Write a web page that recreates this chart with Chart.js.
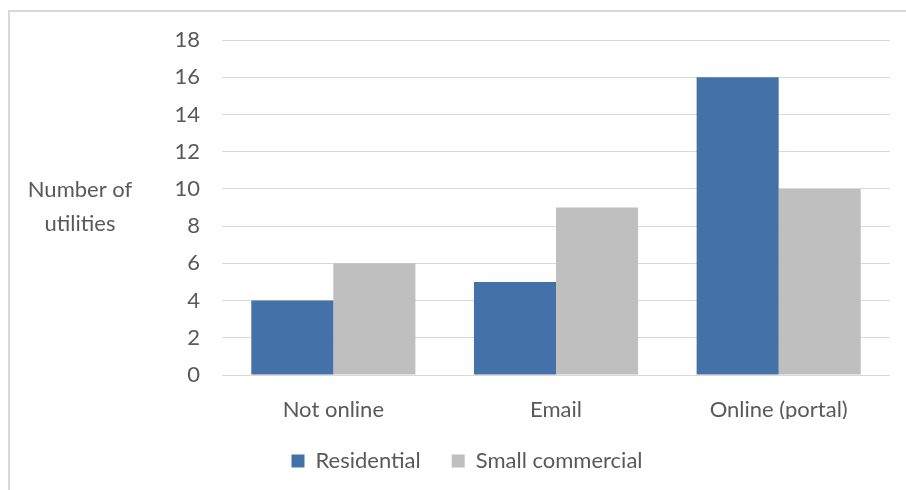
<!DOCTYPE html>
<html>
<head>
<meta charset="utf-8">
<script src="https://cdn.jsdelivr.net/npm/chart.js@4"></script>
<style>
  html, body { margin: 0; padding: 0; background: #fff; }
  #wrap { position: relative; width: 906px; height: 490px; overflow: hidden; }
  #frame { position: absolute; left: 8px; top: 10px; width: 920px; height: 500px;
           border-top: 2px solid #d9d9d9; border-left: 2px solid #d9d9d9; }
  #opChart { position: absolute; left: 0; top: 0; }
</style>
</head>
<body>
<div id="wrap">
  <div id="frame"></div>
  <canvas id="opChart" width="906" height="490"></canvas>
</div>
<script>
var categories = ["Not online", "Email", "Online (portal)"];
var residential = [4, 5, 16];
var smallCommercial = [6, 9, 10];
var yTitle = ["Number of", "utilities"];

var textColor = "#595959";
var fontFam = "Lato, 'Open Sans', sans-serif";
var fontSize = 22;

// horizontal axis title to the left of the ticks
var yTitlePlugin = {
    id: "yTitle",
    afterDraw: function(chart){
        var ctx = chart.ctx;
        ctx.save();
        ctx.fillStyle = textColor;
        ctx.font = fontSize + "px " + fontFam;
        ctx.textAlign = "center";
        ctx.textBaseline = "middle";
        ctx.fillText(yTitle[0], 80, 190);
        ctx.fillText(yTitle[1], 80, 224);
        ctx.restore();
    }
};

function createChart(){
    return {
        type: "bar",
        data: {
            labels: categories,
            datasets: [{
                label: "Residential",
                backgroundColor: "#4472a8",
                data: residential
            }, {
                label: "Small commercial",
                backgroundColor: "#bfbfbf",
                data: smallCommercial
            }]
        },
        options: {
            responsive: false,
            animation: false,
            layout: {padding: {left: 44, right: 16, top: 40, bottom: 8}},
            datasets: {bar: {barPercentage: 1, categoryPercentage: 0.737}},
            scales: {
                x: {
                    grid: {display: false, drawTicks: false},
                    border: {display: false},
                    ticks: {color: textColor, font: {size: fontSize, family: fontFam}, padding: 22},
                    afterFit: function(s){ s.height = 44; }
                },
                y: {
                    min: 0, max: 18,
                    grid: {color: "#d9d9d9", lineWidth: 1, drawTicks: false},
                    border: {display: false},
                    ticks: {stepSize: 2, color: textColor, font: {size: fontSize, family: fontFam}, padding: 22},
                    afterFit: function(s){ s.width = 178; }
                }
            },
            plugins: {
                legend: {
                    position: "bottom",
                    labels: {color: textColor, font: {size: fontSize, family: fontFam},
                             boxWidth: 13, boxHeight: 13, padding: 31}
                },
                tooltip: {enabled: false},
                title: {display: false}
            }
        },
        plugins: [yTitlePlugin]
    };
}

new Chart("opChart", createChart());
</script>
</body>
</html>
